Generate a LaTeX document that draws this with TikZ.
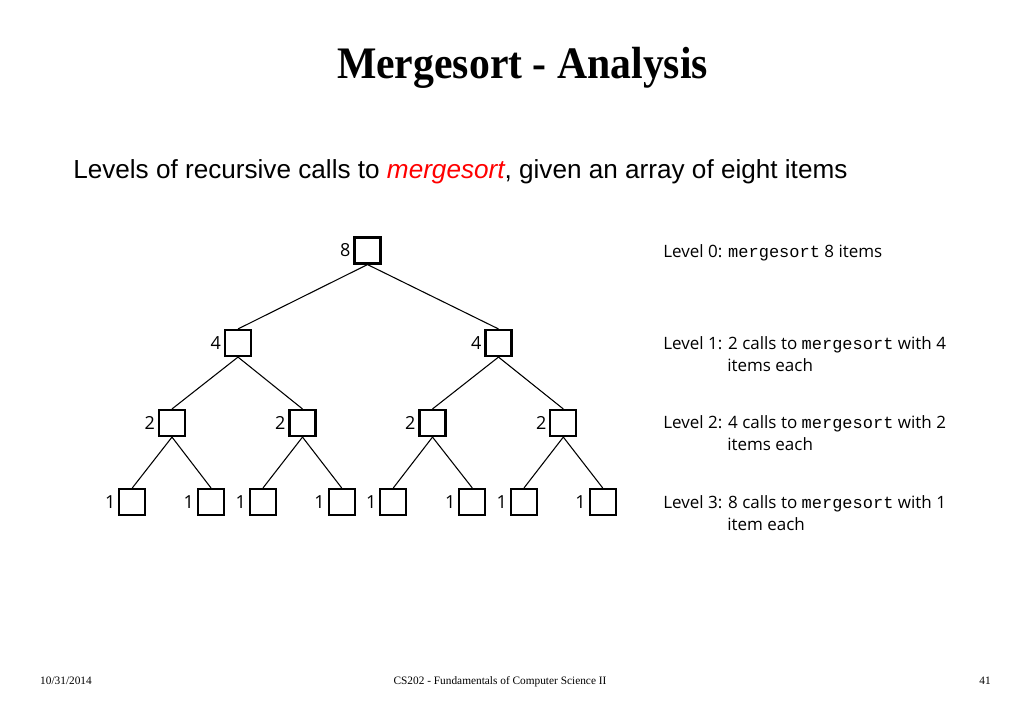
\documentclass[tikz,border=0pt]{standalone}
\usepackage{fontspec}
\setmainfont{Liberation Serif}
\setmonofont{Liberation Mono}
\newfontfamily\osans{Open Sans}
\newfontfamily\lsans{Liberation Sans}
\begin{document}
\begin{tikzpicture}[x=0.75pt,y=-0.75pt,
  box/.style={draw=black, line width=1.6pt, minimum size=19.5pt, inner sep=0pt, fill=white,
     label={[font=\osans\fontsize{13.5}{15}\selectfont, inner sep=0pt, label distance=2pt]left:#1}},
  edge/.style={draw=black, line width=0.8pt},
  lvl/.style={anchor=base west, inner sep=0pt, align=left, font=\osans\fontsize{12.75}{16.5}\selectfont},
  foot/.style={inner sep=0pt, anchor=base, font=\fontsize{8.5}{10}\selectfont}]
\useasboundingbox[fill=white] (0,0) rectangle (1023,708);
% title and subtitle
\node[inner sep=0pt, anchor=base, yscale=1.08, font=\bfseries\fontsize{31.3}{36}\selectfont] (title) at (522.5,78) {Mergesort - Analysis};
\node[inner sep=0pt, anchor=base west, font=\lsans\fontsize{19.6}{22}\selectfont] (sub) at (73,178)
  {Levels of recursive calls to \textcolor{red}{\itshape mergesort}, given an array of eight items};
% tree
\node[box=8] (r) at (367.5,250.5) {};
\node[box=4] (a) at (238,343) {};
\node[box=4] (b) at (498.5,343) {};
\node[box=2] (a1) at (172,423) {};
\node[box=2] (a2) at (302.5,423) {};
\node[box=2] (b1) at (432.5,423) {};
\node[box=2] (b2) at (563.3,423) {};
\node[box=1] (l1) at (132.3,502) {};
\node[box=1] (l2) at (211,502) {};
\node[box=1] (l3) at (263,502) {};
\node[box=1] (l4) at (341.7,502) {};
\node[box=1] (l5) at (393.3,502) {};
\node[box=1] (l6) at (472.3,502) {};
\node[box=1] (l7) at (524,502) {};
\node[box=1] (l8) at (602.7,502) {};
\draw[edge] (r.south) -- (a.north);
\draw[edge] (r.south) -- (b.north);
\draw[edge] (a.south) -- (a1.north);
\draw[edge] (a.south) -- (a2.north);
\draw[edge] (b.south) -- (b1.north);
\draw[edge] (b.south) -- (b2.north);
\draw[edge] (a1.south) -- (l1.north);
\draw[edge] (a1.south) -- (l2.north);
\draw[edge] (a2.south) -- (l3.north);
\draw[edge] (a2.south) -- (l4.north);
\draw[edge] (b1.south) -- (l5.north);
\draw[edge] (b1.south) -- (l6.north);
\draw[edge] (b2.south) -- (l7.north);
\draw[edge] (b2.south) -- (l8.north);
% level texts (base anchor = last line)
\node[lvl] (t0) at (663,257) {Level 0: \texttt{mergesort} 8 items};
\node[lvl] (t1) at (663,371.5) {Level 1: 2 calls to \texttt{mergesort} with 4\\\hspace*{48pt}items each};
\node[lvl] (t2) at (663,450.5) {Level 2: 4 calls to \texttt{mergesort} with 2\\\hspace*{48pt}items each};
\node[lvl] (t3) at (663,530) {Level 3: 8 calls to \texttt{mergesort} with 1\\\hspace*{48pt}item each};
% footer
\node[foot] (date) at (66,684) {10/31/2014};
\node[foot] (course) at (500,684) {CS202 - Fundamentals of Computer Science II};
\node[foot] (page) at (985,684) {41};
\end{tikzpicture}
\end{document}
